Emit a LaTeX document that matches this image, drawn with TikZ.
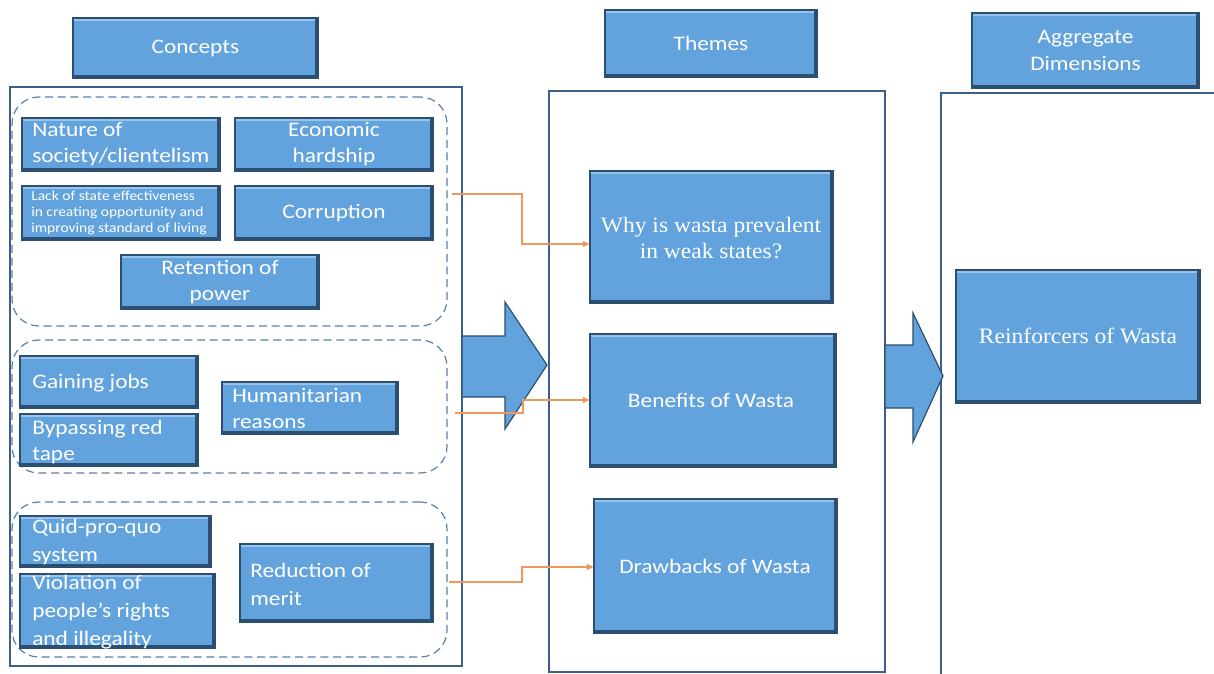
\documentclass[tikz,border=0pt]{standalone}
\usepackage{fontspec}
\setmainfont{Carlito}[FakeStretch=1.13]
\newfontfamily\tnr{Liberation Serif}[FakeStretch=1.07]
\usetikzlibrary{arrows.meta,fit,calc}
\definecolor{boxfill}{RGB}{98,163,222}
\definecolor{boxdark}{RGB}{44,78,112}
\definecolor{boxlight}{RGB}{150,196,238}
\definecolor{frameblue}{RGB}{60,96,138}
\definecolor{dashblue}{RGB}{88,130,172}
\definecolor{connorange}{RGB}{242,150,90}
\tikzset{
  blockbox/.style={fill=boxfill, draw=boxdark, line width=0.8pt, inner sep=0pt,
    path picture={
      \draw[boxlight, line width=2.4pt] ([yshift=-1.2pt]path picture bounding box.north west) -- ([yshift=-1.2pt]path picture bounding box.north east);
      \draw[boxdark, line width=2pt] ([yshift=1pt]path picture bounding box.south west) -- ([yshift=1pt,xshift=-1pt]path picture bounding box.south east) -- ([xshift=-1pt]path picture bounding box.north east);
    }},
  frame/.style={draw=frameblue, line width=1.5pt, inner sep=0pt},
  group/.style={draw=dashblue, dashed, dash pattern=on 6pt off 3.5pt, line width=0.9pt, rounded corners=20pt, inner sep=0pt},
  txt/.style={text=white, inner sep=0pt, font=\fontsize{15.5pt}{19pt}\selectfont},
  smalltxt/.style={text=white, inner sep=0pt, align=left, font=\fontsize{10.3pt}{12pt}\selectfont},
  serif/.style={text=white, inner sep=0pt, align=center, font=\tnr\fontsize{16.5pt}{19pt}\selectfont},
  bigarrow/.style={fill=boxfill, draw=boxdark, line width=0.9pt, line join=miter},
  conn/.style={draw=connorange, line width=0.8pt, -{Triangle[length=5pt,width=4.5pt]}},
}
\begin{document}
\begin{tikzpicture}[x=0.75pt,y=-0.75pt]
\clip (0,0) rectangle (1214,674);
\fill[white] (0,0) rectangle (1214,674);

% outer frames
\node[frame, fit={(10,87)(462,666)}] (cframe) {};
\node[frame, fit={(549,91)(885,672)}] (tframe) {};
\node[frame, fit={(941,93)(1220,680)}] (aframe) {};

% headers
\node[blockbox, fit={(73,18)(318,78)}] (hconc) {};
\node[txt] (hconct) at (hconc.center) {Concepts};
\node[blockbox, fit={(605,10)(817,77)}] (htheme) {};
\node[txt] (hthemet) at (htheme.center) {Themes};
\node[blockbox, fit={(972,13)(1199,88)}] (hagg) {};
\node[txt, align=center, font=\fontsize{15.5pt}{20pt}\selectfont] (haggt) at (hagg.center) {Aggregate\\Dimensions};

% dashed groups
\node[group, fit={(12,97)(447,326)}] (g1) {};
\node[group, fit={(12,340)(447,473)}] (g2) {};
\node[group, fit={(12,502)(447,657)}] (g3) {};

% group 1
\node[blockbox, fit={(22,118)(220,171)}] (nat) {};
\node[txt, align=left, anchor=west] (natt) at (32,144) {Nature of\\society/clientelism};
\node[blockbox, fit={(235,118)(433,171)}] (eco) {};
\node[txt, align=center] (ecot) at (334,144) {Economic\\hardship};
\node[blockbox, fit={(22,186)(220,240)}] (lack) {};
\node[smalltxt, anchor=west] (lackt) at (31,213) {Lack of state effectiveness\\in creating opportunity and\\improving standard of living};
\node[blockbox, fit={(235,186)(433,240)}] (cor) {};
\node[txt] (cort) at (334,213) {Corruption};
\node[blockbox, fit={(121,255)(319,309)}] (ret) {};
\node[txt, align=center] (rett) at (220,282) {Retention of\\power};

% group 2
\node[blockbox, fit={(20,356)(198,408)}] (gain) {};
\node[txt, anchor=west] (gaint) at (32,383) {Gaining jobs};
\node[blockbox, fit={(20,414)(198,466)}] (byp) {};
\node[txt, align=left, anchor=west, font=\fontsize{15.5pt}{20pt}\selectfont] (bypt) at (32,442) {Bypassing red\\tape};
\node[blockbox, fit={(222,382)(398,434)}] (hum) {};
\node[txt, align=left, anchor=west, font=\fontsize{15.5pt}{19.5pt}\selectfont] (humt) at (232,408) {Humanitarian\\reasons};

% group 3
\node[blockbox, fit={(20,516)(211,567)}] (quid) {};
\node[txt, align=left, anchor=west, font=\fontsize{15.5pt}{21pt}\selectfont] (quidt) at (32,542) {Quid-pro-quo\\system};
\node[blockbox, fit={(20,574)(215,648)}] (vio) {};
\node[txt, align=left, anchor=west, font=\fontsize{15.5pt}{21pt}\selectfont] (viot) at (32,612) {Violation of\\people’s rights\\and illegality};
\node[blockbox, fit={(240,544)(433,622)}] (red) {};
\node[txt, align=left, anchor=west, font=\fontsize{15.5pt}{21pt}\selectfont] (redt) at (250,584) {Reduction of\\merit};

% themes
\node[blockbox, fit={(590,171)(833,303)}] (why) {};
\node[serif] (whyt) at (711,238) {Why is wasta prevalent\\in weak states?};
\node[blockbox, fit={(590,334)(836,467)}] (ben) {};
\node[txt] (bent) at (711,400) {Benefits of Wasta};
\node[blockbox, fit={(594,499)(837,633)}] (drw) {};
\node[txt] (drwt) at (715,566) {Drawbacks of Wasta};

% aggregate
\node[blockbox, fit={(956,270)(1200,403)}] (rein) {};
\node[serif] (reint) at (1078,336) {Reinforcers of Wasta};

% big arrows
\draw[bigarrow] (462,336) -- (505,336) -- (505,302) -- (547,365) -- (505,429) -- (505,397) -- (462,397) -- cycle;
\draw[bigarrow] (885,345) -- (913,345) -- (913,313) -- (943,376) -- (913,442) -- (913,408) -- (885,408) -- cycle;

% connectors
\coordinate (s1) at (452,194);
\coordinate (k1) at (522,244);
\draw[conn] (s1) -| (k1) -- (k1 -| why.west);
\coordinate (s2) at (455,413);
\coordinate (k2) at (523,400);
\draw[conn] (s2) -| (k2) -- (k2 -| ben.west);
\coordinate (s3) at (449,582);
\coordinate (k3) at (522,567);
\draw[conn] (s3) -| (k3) -- (k3 -| drw.west);
\end{tikzpicture}
\end{document}
